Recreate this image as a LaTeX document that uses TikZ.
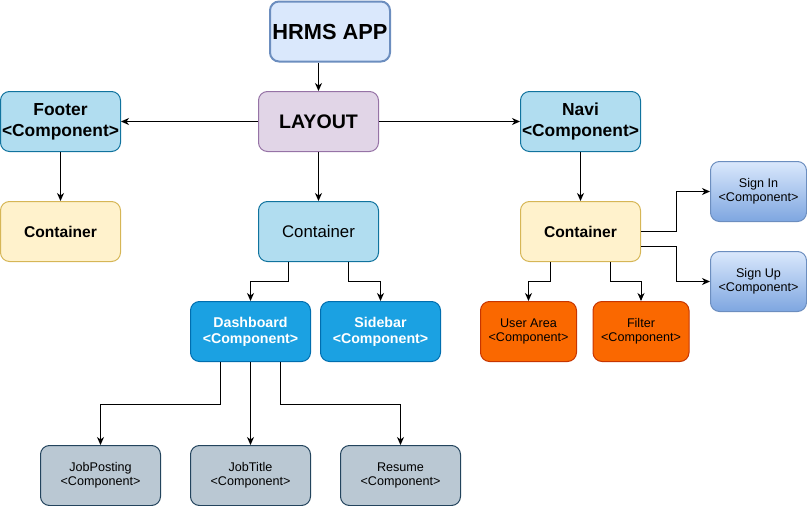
\documentclass[tikz,border=0pt]{standalone}
\usepackage{fontspec}
\setmainfont{Liberation Sans}
\usetikzlibrary{arrows.meta}
\definecolor{hrmsfill}{HTML}{DAE8FC}
\definecolor{hrmsdraw}{HTML}{6C8EBF}
\definecolor{layfill}{HTML}{E1D5E7}
\definecolor{laydraw}{HTML}{9673A6}
\definecolor{ltfill}{HTML}{B1DDF0}
\definecolor{ltdraw}{HTML}{10739E}
\definecolor{yfill}{HTML}{FFF2CC}
\definecolor{ydraw}{HTML}{D6B656}
\definecolor{bfill}{HTML}{1BA1E2}
\definecolor{bdraw}{HTML}{006EAF}
\definecolor{ofill}{HTML}{FA6800}
\definecolor{odraw}{HTML}{C73500}
\definecolor{gfill}{HTML}{BAC8D3}
\definecolor{gdraw}{HTML}{23445D}
\definecolor{gradbot}{HTML}{7EA6E0}
\begin{document}
\begin{tikzpicture}[x=1pt,y=-1pt,
  box/.style={rounded corners=9pt, minimum width=120pt, minimum height=60pt,
    align=center, line width=1pt, inner sep=0pt, text=black},
  hrmsbox/.style={box, draw=hrmsdraw, fill=hrmsfill, line width=2pt,
    font=\fontsize{21.8}{24}\selectfont\bfseries},
  laybox/.style={box, draw=laydraw, fill=layfill,
    font=\fontsize{19.6}{22}\selectfont\bfseries},
  ltbox/.style={box, draw=ltdraw, fill=ltfill,
    font=\fontsize{17.4}{21}\selectfont\bfseries},
  ltplain/.style={box, draw=ltdraw, fill=ltfill,
    font=\fontsize{16.8}{20}\selectfont},
  ybox/.style={box, draw=ydraw, fill=yfill,
    font=\fontsize{15.6}{19}\selectfont\bfseries},
  bbox/.style={box, draw=bdraw, fill=bfill, text=white,
    font=\fontsize{14.2}{16}\selectfont\bfseries},
  obox/.style={box, draw=odraw, fill=ofill, minimum width=96pt,
    font=\fontsize{12.6}{14}\selectfont},
  sbox/.style={box, draw=hrmsdraw, top color=hrmsfill, bottom color=gradbot, minimum width=96pt,
    font=\fontsize{12.6}{14}\selectfont},
  gbox/.style={box, draw=gdraw, fill=gfill,
    font=\fontsize{12.6}{14}\selectfont},
  arr/.style={draw=black, line width=1pt, -{Stealth[length=8pt,width=7pt,inset=2.5pt]}}
]
\useasboundingbox (0,0) rectangle (807,506);
\node[hrmsbox] (hrms) at (330,31.5) {HRMS APP};
\node[laybox] (layout) at (318.5,121.5) {LAYOUT};
\node[ltbox] (footer) at (60.5,121.5) {Footer\\{<}Component{>}};
\node[ltbox] (navi) at (580.5,121.5) {Navi\\{<}Component{>}};
\node[ybox] (fcont) at (60.5,231.5) {Container};
\node[ltplain] (ccont) at (318.5,231.5) {Container};
\node[ybox] (rcont) at (580.5,231.5) {Container};
\node[bbox] (dash) at (250.5,331.5) {Dashboard\\{<}Component{>}};
\node[bbox] (side) at (380.5,331.5) {Sidebar\\{<}Component{>}};
\node[obox] (user) at (528.5,331.5) {User Area\\{<}Component{>}};
\node[obox] (filter) at (641,331.5) {Filter\\{<}Component{>}};
\node[sbox] (signin) at (758.5,191.5) {Sign In\\{<}Component{>}};
\node[sbox] (signup) at (758.5,281.5) {Sign Up\\{<}Component{>}};
\node[gbox] (jp) at (100.5,475.5) {JobPosting\\{<}Component{>}};
\node[gbox] (jt) at (250.5,475.5) {JobTitle\\{<}Component{>}};
\node[gbox] (res) at (400.5,475.5) {Resume\\{<}Component{>}};

\draw[arr] (layout.north |- hrms.south) -- (layout.north);
\draw[arr] (layout.west) -- (footer.east);
\draw[arr] (layout.east) -- (navi.west);
\draw[arr] (footer.south) -- (fcont.north);
\draw[arr] (layout.south) -- (ccont.north);
\draw[arr] (navi.south) -- (rcont.north);
\draw[arr] ([xshift=-30pt]ccont.south) -- ++(0,19.5) -| (dash.north);
\draw[arr] ([xshift=30pt]ccont.south) -- ++(0,19.5) -| (side.north);
\draw[arr] ([xshift=-30pt]rcont.south) -- ++(0,19.5) -| (user.north);
\draw[arr] ([xshift=30pt]rcont.south) -- ++(0,19.5) -| (filter.north);
\draw[arr] (rcont.east) -- ++(35,0) |- (signin.west);
\draw[arr] ([yshift=-15pt]rcont.east) -- ++(35,0) |- (signup.west);
\draw[arr] ([xshift=-30pt]dash.south) -- ++(0,42) -| (jp.north);
\draw[arr] (dash.south) -- (jt.north);
\draw[arr] ([xshift=30pt]dash.south) -- ++(0,42) -| (res.north);
\end{tikzpicture}
\end{document}
